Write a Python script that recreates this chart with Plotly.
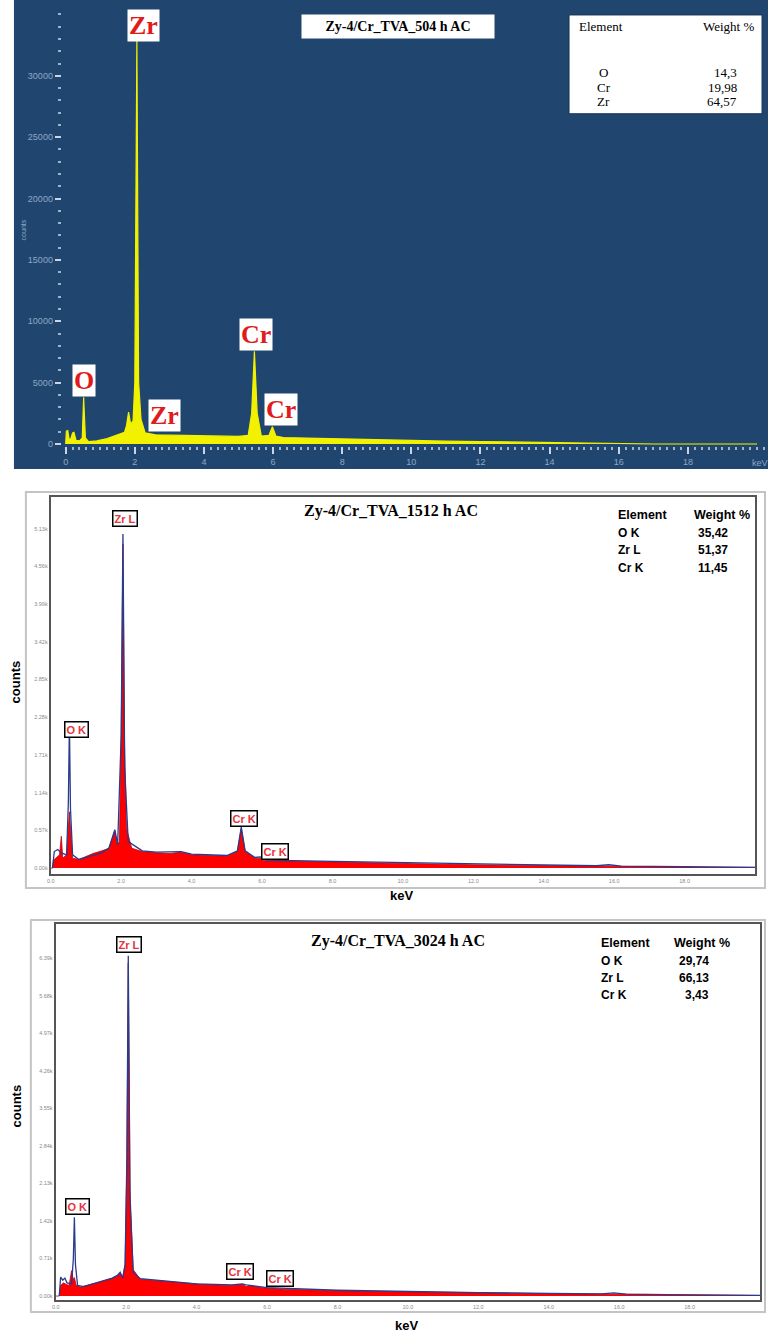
import plotly.graph_objects as go

W, H = 768, 1336

# ---------------- spectrum data ----------------
# 504 h AC (counts)
e504 = [0.00, 0.02, 0.06, 0.10, 0.14, 0.20, 0.24, 0.30, 0.40, 0.48, 0.52, 0.57, 0.66, 0.90, 1.20,
        1.50, 1.70, 1.76, 1.82, 1.88, 1.95, 2.00, 2.06, 2.11, 2.18, 2.30, 2.60, 3.00, 3.50, 4.00,
        4.50, 5.00, 5.28, 5.38, 5.46, 5.54, 5.66, 5.88, 5.98, 6.08, 6.30, 7.00, 8.00, 9.00, 10.0,
        11.0, 12.0, 13.0, 14.0, 15.0, 16.0, 16.5, 17.0, 20.0]
c504 = [0, 1050, 1100, 400, 350, 900, 950, 300, 250, 500, 3800, 500, 200, 250, 450,
        750, 950, 1500, 2600, 1600, 1900, 5000, 32900, 5000, 2000, 900, 750, 720, 700, 680,
        650, 620, 700, 2500, 7550, 2500, 650, 700, 1400, 650, 520, 470, 400, 330, 270,
        230, 200, 160, 130, 100, 60, 20, 0, 0]

# 1512 h AC (counts): measured spectrum and fitted outline
e1512 = [0.00, 0.05, 0.08, 0.15, 0.25, 0.30, 0.34, 0.45, 0.50, 0.53, 0.56, 0.62, 0.80, 1.00, 1.20,
         1.45, 1.65, 1.75, 1.82, 1.88, 1.95, 2.00, 2.05, 2.09, 2.15, 2.30, 2.60, 3.00, 3.40, 3.70,
         4.00, 4.50, 5.00, 5.30, 5.41, 5.52, 5.80, 5.95, 6.05, 6.50, 8.00, 10.0, 12.0, 14.0, 16.0,
         18.0, 20.0]
c1512 = [0, 0, 120, 150, 200, 480, 150, 200, 700, 850, 600, 150, 130, 180, 220,
         260, 300, 450, 560, 350, 400, 2000, 4900, 2000, 600, 300, 250, 230, 220, 240,
         200, 190, 180, 250, 600, 250, 150, 150, 110, 110, 90, 70, 50, 35, 25,
         15, 10]
e1512_fit = [0.05, 0.10, 0.20, 0.30, 0.45, 0.50, 0.53, 0.56, 0.62, 0.80, 1.00, 1.45, 1.65, 1.82, 1.90,
             2.00, 2.05, 2.10, 2.20, 2.60, 3.00, 3.70, 4.00, 5.00, 5.30, 5.41, 5.52, 5.80, 5.95, 6.10,
             8.00, 10.0, 12.0, 14.0, 15.5, 15.85, 16.2, 18.0, 20.0]
c1512_fit = [0, 250, 280, 230, 200, 1000, 2200, 900, 200, 130, 160, 230, 300, 580, 350,
             2000, 5050, 1500, 400, 260, 240, 250, 210, 190, 260, 620, 260, 160, 170, 120,
             100, 80, 60, 45, 35, 50, 30, 20, 12]

# 3024 h AC (counts): measured spectrum and fitted outline
e3024 = [0.00, 0.10, 0.14, 0.22, 0.30, 0.38, 0.45, 0.50, 0.53, 0.58, 0.70, 1.00, 1.30, 1.60, 1.75,
         1.83, 1.90, 1.97, 2.02, 2.06, 2.11, 2.20, 2.40, 3.00, 3.60, 4.20, 5.00, 5.30, 5.41, 5.52,
         5.80, 6.50, 8.00, 10.0, 12.0, 14.0, 16.0, 18.0, 20.0]
c3024 = [0, 0, 200, 250, 220, 200, 480, 300, 350, 200, 170, 220, 280, 330, 380,
         440, 330, 600, 2500, 6300, 2000, 500, 320, 280, 250, 220, 200, 220, 180, 200,
         160, 130, 100, 80, 60, 45, 35, 20, 10]
e3024_fit = [0.10, 0.14, 0.20, 0.26, 0.32, 0.45, 0.50, 0.53, 0.56, 0.62, 0.80, 1.00, 1.30, 1.60, 1.75,
             1.83, 1.90, 1.97, 2.02, 2.06, 2.11, 2.20, 2.40, 3.00, 4.00, 5.00, 5.30, 5.41, 5.52, 6.00,
             8.00, 10.0, 12.0, 14.0, 15.5, 15.85, 16.2, 18.0, 20.0]
c3024_fit = [0, 360, 300, 340, 250, 230, 700, 1490, 600, 200, 180, 220, 280, 340, 390,
             450, 340, 600, 2600, 6440, 1800, 450, 330, 290, 230, 210, 230, 210, 200, 160,
             110, 85, 65, 50, 40, 60, 35, 22, 12]

# ---------------- composition tables ----------------
elem504 = ["O", "Cr", "Zr"]
wt504 = ["14,3", "19,98", "64,57"]
elem1512 = ["O K", "Zr L", "Cr K"]
wt1512 = ["35,42", "51,37", "11,45"]
elem3024 = ["O K", "Zr L", "Cr K"]
wt3024 = ["29,74", "66,13", "3,43"]

# ---------------- axis ticks ----------------
kev_ticks = [0, 2, 4, 6, 8, 10, 12, 14, 16, 18]
counts504_ticks = [0, 5000, 10000, 15000, 20000, 25000, 30000]
counts1512_ticks = [0, 570, 1140, 1710, 2280, 2850, 3420, 3990, 4560, 5130]
counts1512_text = ["0.00k", "0.57k", "1.14k", "1.71k", "2.28k", "2.85k", "3.42k", "3.99k", "4.56k", "5.13k"]
counts3024_ticks = [0, 710, 1420, 2130, 2840, 3550, 4260, 4970, 5680, 6390]
counts3024_text = ["0.00k", "0.71k", "1.42k", "2.13k", "2.84k", "3.55k", "4.26k", "4.97k", "5.68k", "6.39k"]


def fx(p):
    return p / W


def fy(p):
    return 1 - p / H


def dom_x(a, b):
    return [fx(a), fx(b)]


def dom_y(top, bottom):
    return [fy(bottom), fy(top)]


fig = go.Figure()

# panel 1: yellow filled spectrum
fig.add_trace(go.Scatter(x=e504, y=c504, mode="lines", fill="tozeroy",
                         line=dict(color="#f2f200", width=1.2), fillcolor="#f2f200",
                         xaxis="x", yaxis="y", hoverinfo="skip", showlegend=False))
# panel 2
fig.add_trace(go.Scatter(x=e1512, y=c1512, mode="lines", fill="tozeroy",
                         line=dict(color="#c00010", width=0.8), fillcolor="#ff0000",
                         xaxis="x2", yaxis="y2", hoverinfo="skip", showlegend=False))
fig.add_trace(go.Scatter(x=e1512_fit, y=c1512_fit, mode="lines",
                         line=dict(color="#2a3a8c", width=1.3),
                         xaxis="x2", yaxis="y2", hoverinfo="skip", showlegend=False))
# panel 3
fig.add_trace(go.Scatter(x=e3024, y=c3024, mode="lines", fill="tozeroy",
                         line=dict(color="#c00010", width=0.8), fillcolor="#ff0000",
                         xaxis="x3", yaxis="y3", hoverinfo="skip", showlegend=False))
fig.add_trace(go.Scatter(x=e3024_fit, y=c3024_fit, mode="lines",
                         line=dict(color="#2a3a8c", width=1.3),
                         xaxis="x3", yaxis="y3", hoverinfo="skip", showlegend=False))

tick_blue = "#8fa7c6"
small_gray = dict(family="Arial", size=5.5, color="#8a8a8a")

layout = dict(
    width=W, height=H, margin=dict(l=0, r=0, t=0, b=0),
    paper_bgcolor="white", plot_bgcolor="rgba(0,0,0,0)",
    showlegend=False,
    # panel 1 axes
    xaxis=dict(domain=dom_x(58, 766), range=[-0.115, 20.26], anchor="y",
               tickvals=kev_ticks, ticks="outside", ticklen=7, tickwidth=1.5, tickcolor="#c9d5e6",
               minor=dict(dtick=0.2, tick0=0, ticks="outside", ticklen=3, tickwidth=1.5, tickcolor="#9fb3cf"),
               showgrid=False, zeroline=False, showline=False,
               tickfont=dict(family="Arial", size=9, color=tick_blue)),
    yaxis=dict(domain=dom_y(14, 447), range=[-163, 35040], anchor="x",
               tickvals=counts504_ticks, tickformat="d", ticks="outside", ticklen=6, tickwidth=1.5,
               tickcolor="#c9d5e6",
               minor=dict(dtick=1000, tick0=0, ticks="outside", ticklen=3, tickwidth=1.5, tickcolor="#9fb3cf"),
               showgrid=False, zeroline=False, showline=False,
               tickfont=dict(family="Arial", size=9, color=tick_blue)),
    # panel 2 axes
    xaxis2=dict(domain=dom_x(47, 755), range=[0, 20], anchor="y2",
                tickvals=kev_ticks, tickformat=".1f", ticks="", showgrid=False, zeroline=False,
                showline=True, mirror=True, linecolor="#555555", linewidth=2,
                tickfont=small_gray),
    yaxis2=dict(domain=dom_y(498, 876), range=[-90, 5610], anchor="x2",
                tickvals=counts1512_ticks, ticktext=counts1512_text, ticks="", showgrid=False,
                zeroline=False, showline=True, mirror=True, linecolor="#555555", linewidth=2,
                tickfont=small_gray),
    # panel 3 axes
    xaxis3=dict(domain=dom_x(52, 760), range=[0, 20], anchor="y3",
                tickvals=kev_ticks, tickformat=".1f", ticks="", showgrid=False, zeroline=False,
                showline=True, mirror=True, linecolor="#555555", linewidth=2,
                tickfont=small_gray),
    yaxis3=dict(domain=dom_y(926, 1303), range=[-76, 7043], anchor="x3",
                tickvals=counts3024_ticks, ticktext=counts3024_text, ticks="", showgrid=False,
                zeroline=False, showline=True, mirror=True, linecolor="#555555", linewidth=2,
                tickfont=small_gray),
)

shapes = [
    # panel 1 dark background
    dict(type="rect", xref="paper", yref="paper", x0=fx(10), x1=fx(768), y0=fy(470), y1=fy(0),
         fillcolor="#20466f", line=dict(width=0), layer="below"),
    # panel 1 composition box
    dict(type="rect", xref="paper", yref="paper", x0=fx(568), x1=fx(762), y0=fy(114), y1=fy(15),
         fillcolor="white", line=dict(color="#1a3555", width=1), layer="above"),
    # outer frames of panels 2 and 3
    dict(type="rect", xref="paper", yref="paper", x0=fx(22), x1=fx(765), y0=fy(890), y1=fy(493),
         fillcolor="rgba(0,0,0,0)", line=dict(color="#c4c4c4", width=2), layer="below"),
    dict(type="rect", xref="paper", yref="paper", x0=fx(27), x1=fx(765), y0=fy(1315), y1=fy(922),
         fillcolor="rgba(0,0,0,0)", line=dict(color="#c4c4c4", width=2), layer="below"),
]

annotations = []


def text(t, x, y, size, family="Arial", color="black", xanchor="center", bold=False, **kw):
    if bold:
        t = "<b>" + t + "</b>"
    annotations.append(dict(text=t, x=fx(x), y=fy(y), xref="paper", yref="paper",
                            xanchor=xanchor, yanchor="middle", showarrow=False,
                            font=dict(family=family, size=size, color=color), **kw))


# panel 1 peak labels
serif = "Liberation Serif"
red1 = "#e01b1b"
for t, x, y in [("Zr", 140, 26), ("O", 80, 381), ("Zr", 161, 416), ("Cr", 253, 335), ("Cr", 278, 410)]:
    text(t, x, y, 26, family=serif, color=red1, bold=True, bgcolor="white", borderpad=1)

# panel 1 title and table
text("Zy-4/Cr_TVA_504 h AC", 396, 27, 14, family=serif, bold=True, bgcolor="white",
     borderpad=4, width=184)
text("Element", 576, 27, 13, family=serif, xanchor="left")
text("Weight %", 756, 27, 13, family=serif, xanchor="right")
for i, (el, w) in enumerate(zip(elem504, wt504)):
    yy = 73 + 14.5 * i
    text(el, 603, yy, 13, family=serif)
    text(w, 739, yy, 13, family=serif, xanchor="right")

text("counts", 20, 230, 7, color=tick_blue, textangle=-90)
text("keV", 760, 464, 9, color=tick_blue)

# panel 2 and 3 peak labels
red2 = "#e8323c"
for t, x, y in [("Zr L", 122, 520), ("O K", 73, 731), ("Cr K", 241, 820), ("Cr K", 272, 853),
                ("Zr L", 126, 947), ("O K", 74, 1209), ("Cr K", 237, 1274), ("Cr K", 277, 1281)]:
    text(t, x, y, 11, color=red2, bold=True, bgcolor="white", bordercolor="black",
         borderwidth=1.5, borderpad=1)

# panel 2 title / table
text("Zy-4/Cr_TVA_1512 h AC", 300, 512, 16, family=serif, xanchor="left", bold=True)
text("Element", 615, 516, 12.5, xanchor="left", bold=True)
text("Weight %", 752, 516, 12.5, xanchor="right", bold=True)
for i, (el, w) in enumerate(zip(elem1512, wt1512)):
    yy = 534 + 17.5 * i
    text(el, 615, yy, 12, xanchor="left", bold=True)
    text(w, 730, yy, 12, xanchor="right", bold=True)

# panel 3 title / table
text("Zy-4/Cr_TVA_3024 h AC", 307, 943, 16, family=serif, xanchor="left", bold=True)
text("Element", 598, 945, 12.5, xanchor="left", bold=True)
text("Weight %", 732, 945, 12.5, xanchor="right", bold=True)
for i, (el, w) in enumerate(zip(elem3024, wt3024)):
    yy = 963 + 17 * i
    text(el, 598, yy, 12, xanchor="left", bold=True)
    text(w, 711, yy, 12, xanchor="right", bold=True)

# axis titles for panels 2 and 3
text("counts", 12, 683, 13, bold=True, textangle=-90)
text("keV", 400, 898, 13, bold=True)
text("counts", 13, 1108, 13, bold=True, textangle=-90)
text("keV", 405, 1328, 13, bold=True)

layout["shapes"] = shapes
layout["annotations"] = annotations
fig.update_layout(**layout)

fig.write_html("out.html")
